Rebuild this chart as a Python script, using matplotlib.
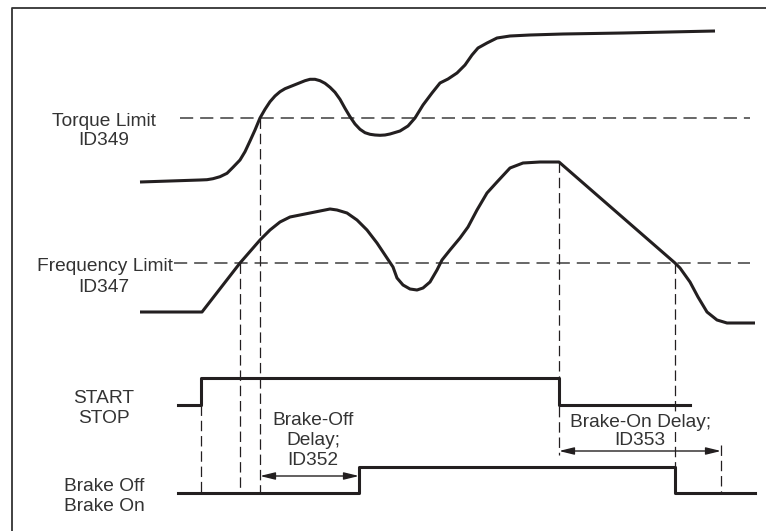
import matplotlib
matplotlib.use("Agg")
import matplotlib.pyplot as plt

plt.rcParams['font.family'] = ['Liberation Sans', 'DejaVu Sans']
plt.rcParams['lines.scale_dashes'] = False

# torque curve (x, y in drawing units, y grows downward)
torque_x = [140, 200, 207, 213, 220, 227, 233, 240, 245, 250, 255, 260, 265, 270, 275, 280,
            285, 290, 295, 300, 305, 310, 315, 320, 325, 330, 335, 340, 345, 350, 355, 360,
            365, 370, 375, 380, 385, 390, 400, 408, 415, 423, 432, 440, 448, 457, 465, 472,
            478, 487, 497, 510, 530, 563, 623, 715]
torque_y = [182, 180, 179.7, 178.7, 176.7, 173.3, 167.3, 160, 151.7, 141, 130, 118, 109.3, 101.7, 96, 91.7,
            88.7, 86.7, 84.7, 82.7, 80.7, 79.3, 79.3, 80.7, 83.3, 87.3, 92.3, 99.3, 108.3, 116.7, 124, 129.3,
            132.7, 134.3, 135, 135.3, 135, 134, 131, 126, 118, 105, 93, 83, 79, 73, 65, 55,
            48, 43, 38, 36, 35, 34, 33, 31]

# output frequency
freq_x = [140, 202, 240, 260, 270, 280, 290, 300, 310, 320, 330, 337, 347, 357, 367, 377,
          387, 393, 397, 403, 410, 417, 423, 430, 437, 442, 450, 460, 468, 477, 487, 497,
          510, 523, 540, 559, 675, 680, 690, 698, 707, 717, 727, 755]
freq_y = [312, 312, 263, 240, 230, 222, 217, 215, 213, 211, 209, 210, 213, 220, 230, 243,
          258, 267, 278, 285, 289, 290, 288, 282, 270, 260, 250, 238, 227, 210, 193, 182,
          168, 163, 162, 162, 263, 268, 282, 297, 312, 320, 323, 323]

# digital signals (post-step)
start_x = [178, 201, 559, 690]
start_y = [405, 378, 405, 405]
brake_x = [178, 359, 675, 755]
brake_y = [493, 467, 493, 493]

torque_limit = 118
freq_limit = 263

# vertical guide lines: x, top, bottom
guides = [(201, 405, 493), (240, 263, 493), (260, 118, 493),
          (559, 162, 455), (675, 263, 467), (721, 445, 493)]

ink = '#231f20'
txt = '#333333'
dash = '#666666'

fig = plt.figure(figsize=(7.66, 5.31), dpi=100)
ax = fig.add_axes([0, 0, 1, 1])
ax.set_xlim(0, 766)
ax.set_ylim(531, 0)
ax.axis('off')

# frame
ax.plot([11.5, 11.5, 766], [531, 7.5, 7.5], color='#333333', lw=1.3)

# limit lines
ax.plot([180, 750], [torque_limit, torque_limit], color=dash, lw=1.4, dashes=(9.5, 5))
ax.plot([174, 750], [freq_limit, freq_limit], color=dash, lw=1.4, dashes=(9.5, 5))

for gx, y0, y1 in guides:
    ax.plot([gx, gx], [y0, y1], color=ink, lw=0.9, dashes=(7.5, 3.5))

ax.plot(torque_x, torque_y, color=ink, lw=2.2, solid_joinstyle='round', solid_capstyle='butt')
ax.plot(freq_x, freq_y, color=ink, lw=2.2, solid_joinstyle='round', solid_capstyle='butt')
ax.step(start_x, start_y, where='post', color=ink, lw=2.2)
ax.step(brake_x, brake_y, where='post', color=ink, lw=2.2)

# delay arrows
arrow = dict(arrowstyle='<|-|>,head_length=0.9,head_width=0.22', color=ink, lw=1.0,
             shrinkA=0, shrinkB=0, mutation_scale=10)
ax.annotate('', xy=(359, 476), xytext=(260, 476), arrowprops=arrow)
ax.annotate('', xy=(721, 451), xytext=(559, 451), arrowprops=arrow)

fs = 13.8
labels = [
    ('Torque Limit', 104, 126, 'center'),
    ('ID349', 104, 145, 'center'),
    ('Frequency Limit', 173, 271, 'right'),
    ('ID347', 104, 292, 'center'),
    ('START', 104, 403, 'center'),
    ('STOP', 104, 423, 'center'),
    ('Brake-Off', 313, 425, 'center'),
    ('Delay;', 313, 445, 'center'),
    ('ID352', 313, 465, 'center'),
    ('Brake Off', 104, 491, 'center'),
    ('Brake On', 104, 511, 'center'),
]
for s, x, y, ha in labels:
    ax.text(x, y, s, ha=ha, va='baseline', fontsize=fs, color=txt)

# the brake-on label sits on a white patch over the guide line
for s, x, y in [('Brake-On Delay;', 641, 427), ('ID353', 640, 445)]:
    ax.text(x, y, s, ha='center', va='baseline', fontsize=fs, color=txt,
            bbox=dict(facecolor='white', edgecolor='none', pad=0.5))

fig.savefig('out.png', dpi=100)
